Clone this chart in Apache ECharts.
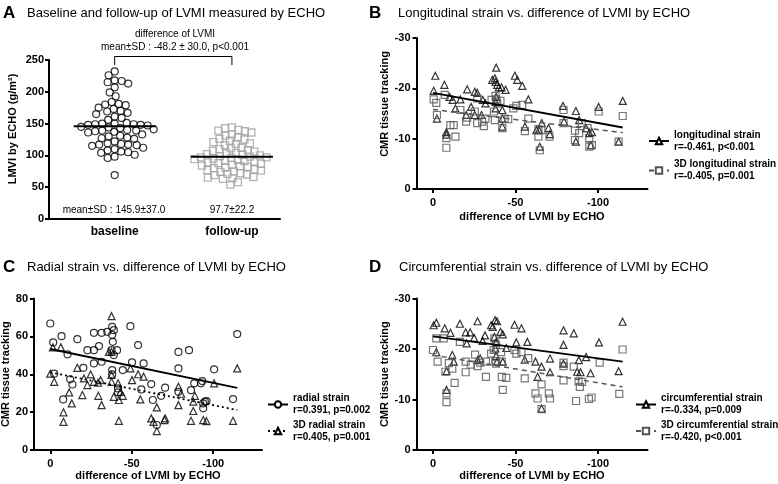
<!DOCTYPE html>
<html>
<head>
<meta charset="utf-8">
<script src="https://cdn.jsdelivr.net/npm/echarts@6.0.0/dist/echarts.min.js"></script>
<style>
html,body{margin:0;padding:0;background:#fff;}
#chart{width:778px;height:484px;}
</style>
</head>
<body>
<div id="chart"></div>
<script>
const FONT = "'Liberation Sans', Arial, Helvetica, sans-serif";

// ---------- Panel A : LVMI baseline vs follow-up ----------
const titleA = 'Baseline and follow-up of LVMI measured by ECHO';
const groupsA = ['baseline', 'follow-up'];
const baselineLVMI = [232, 226, 218, 217, 215, 213, 207, 199, 193, 184, 181, 180, 179, 175, 173, 170, 169, 167, 165, 161, 159, 156,
  151, 150, 150, 149, 149, 148, 148, 147, 145, 144, 143, 141, 140, 139, 139, 138, 137, 136,
  133, 131, 130, 128, 127, 126, 122, 119, 118, 117, 117, 116, 115, 112, 110, 108, 106, 105, 104, 101, 98, 96, 69];
const followupLVMI = [144, 143, 140, 139, 138, 136, 133, 131, 128, 126, 125, 123, 121, 119, 118, 116,
  112, 111, 110, 108, 107, 106, 104, 103, 102, 101, 100, 99, 98, 97, 97, 96, 95, 94, 93, 92, 91, 90, 89, 88, 87,
  85, 84, 83, 82, 81, 80, 78, 77, 76, 75, 74, 72, 71, 70, 69, 66, 65, 64, 63, 58, 54];
const meanA = [145.9, 97.7];
const meanTextA = ['mean\u00b1SD : 145.9\u00b137.0', '97.7\u00b122.2'];
const diffTextA = ['difference of LVMI', 'mean\u00b1SD : -48.2 \u00b1 30.0, p<0.001'];
const yNameA = 'LMVI by ECHO (g/m\u00b2)';

// ---------- Panel B : longitudinal strain ----------
const titleB = 'Longitudinal strain vs. difference of LVMI by ECHO';
const longB = [[-1.4,-22.5],[-0.4,-19.5],[-2.4,-14.0],[-6.9,-20.7],[-8.1,-11.3],[-8.1,-10.8],[-10.0,-18.3],[-11.9,-17.7],[-13.6,-16.0],[-16.6,-17.8],
  [-20.7,-19.8],[-20.1,-14.7],[-23.1,-16.3],[-25.3,-19.3],[-26.8,-19.1],[-25.3,-14.7],[-29.4,-14.7],[-30.2,-17.7],[-31.8,-17.0],[-35.9,-21.7],
  [-37.5,-22.0],[-38.3,-24.1],[-37.9,-21.3],[-38.9,-20.7],[-39.9,-20.2],[-41.5,-20.2],[-44.0,-19.7],[-37.9,-16.0],[-38.3,-18.3],[-42.0,-15.7],
  [-42.0,-14.0],[-42.0,-12.4],[-37.9,-17.3],[-49.6,-22.5],[-51.1,-21.7],[-54.1,-20.5],[-57.8,-17.8],[-55.7,-12.4],[-62.7,-11.7],[-64.2,-11.7],
  [-64.7,-8.4],[-65.9,-13.1],[-70.0,-12.1],[-70.8,-10.9],[-78.8,-16.5],[-79.4,-13.4],[-86.6,-15.5],[-86.6,-9.4],[-88.6,-13.7],[-92.7,-12.1],
  [-94.7,-11.1],[-96.3,-11.3],[-95.7,-8.7],[-100.4,-16.3],[-112.5,-9.4],[-115.0,-17.5]];
const long3DB = [[-0.4,-17.8],[-2.0,-17.1],[-2.4,-14.7],[-7.1,-18.7],[-8.1,-10.1],[-8.1,-8.2],[-10.5,-12.7],[-12.5,-12.7],[-13.6,-10.4],[-16.6,-15.7],
  [-20.1,-13.4],[-20.7,-14.2],[-25.3,-15.4],[-26.8,-18.0],[-26.8,-13.1],[-29.8,-13.4],[-30.8,-12.5],[-31.8,-14.0],[-35.5,-17.7],[-36.9,-15.4],
  [-37.5,-13.7],[-37.9,-18.5],[-38.3,-17.8],[-38.9,-17.0],[-40.9,-17.5],[-42.0,-12.1],[-43.4,-14.0],[-45.6,-13.9],[-48.7,-16.0],[-50.5,-16.5],
  [-54.1,-16.7],[-55.7,-11.5],[-57.8,-14.0],[-63.9,-10.4],[-63.9,-11.9],[-65.7,-11.7],[-64.7,-7.7],[-70.6,-10.4],[-79.1,-13.1],[-79.1,-15.7],
  [-86.0,-9.7],[-86.0,-11.6],[-88.6,-11.1],[-90.2,-13.1],[-93.7,-12.1],[-94.7,-10.1],[-94.7,-8.4],[-96.3,-8.7],[-100.4,-15.4],[-112.5,-9.4],[-115.0,-14.5]];
const longFitB = [[0,-19.1],[-115,-12.2]];
const long3DFitB = [[0,-15.8],[-115,-11.2]];
const seriesNamesB = ['longitudinal strain', '3D longitudinal strain'];
const statsB = ['r=-0.461, p<0.001', 'r=-0.405, p=0.001'];

// ---------- Panel C : radial strain ----------
const titleC = 'Radial strain vs. difference of LVMI by ECHO';
const radC = [[0,66.8],[-1.8,56.8],[-2.4,40.3],[-6.9,60.1],[-10.6,50.5],[-16.6,58.5],[-7.9,26.7],[-12.2,37.3],[-13.6,34.6],[-20.3,43.4],
  [-22.8,52.7],[-26.8,52.7],[-29.9,54.9],[-26.8,61.9],[-31.5,61.9],[-35.0,62.4],[-38.0,65.0],[-39.0,63.3],[-38.0,60.8],[-38.4,57.1],
  [-37.6,52.7],[-39.0,50.1],[-41.0,52.7],[-26.8,45.7],[-31.5,46.6],[-38.0,42.2],[-38.0,39.9],[-44.5,42.2],[-41.6,32.5],[-41.6,30.4],
  [-49.2,65.4],[-50.2,46.3],[-53.9,55.4],[-55.9,32.0],[-57.3,45.7],[-62.0,34.8],[-63.0,26.4],[-65.4,13.2],[-68.1,28.6],[-70.5,32.9],
  [-78.7,51.8],[-78.7,43.1],[-78.7,30.7],[-85.2,52.7],[-86.4,31.6],[-88.4,35.2],[-92.5,35.2],[-93.3,36.4],[-93.9,24.6],[-94.9,25.5],
  [-95.9,25.8],[-93.9,22.0],[-100.6,42.6],[-112.2,26.9],[-114.8,61.2]];
const rad3DC = [[0,40.3],[-2.4,36.0],[-1.6,54.2],[-6.5,54.2],[-8.1,14.9],[-8.1,19.9],[-11.6,30.4],[-13.2,24.6],[-16.6,43.4],[-19.7,29.0],
  [-20.7,37.8],[-22.8,34.3],[-24.8,39.9],[-26.8,36.0],[-29.5,28.6],[-30.9,36.9],[-31.5,23.7],[-29.3,35.5],[-37.6,70.7],[-37.6,36.0],
  [-37.6,39.6],[-39.0,28.1],[-41.6,35.2],[-42.1,26.4],[-42.1,15.4],[-43.1,30.7],[-44.5,28.6],[-37.6,51.8],[-36.0,51.8],[-49.2,43.1],
  [-50.2,36.9],[-53.9,40.0],[-55.3,26.7],[-57.3,38.7],[-62.0,16.7],[-63.4,14.9],[-65.4,22.5],[-65.4,10.0],[-70.1,15.8],[-70.5,16.7],
  [-78.7,33.4],[-78.7,23.7],[-80.3,29.7],[-86.4,15.4],[-87.8,25.5],[-87.8,20.6],[-88.8,28.6],[-93.9,15.8],[-95.9,15.2],[-100.6,35.2],
  [-112.2,15.4],[-114.8,43.1]];
const radFitC = [[0,53.3],[-114.8,32.8]];
const rad3DFitC = [[0,41.0],[-114.8,21.1]];
const seriesNamesC = ['radial strain', '3D radial strain'];
const statsC = ['r=0.391, p=0.002', 'r=0.405, p=0.001'];

// ---------- Panel D : circumferential strain ----------
const titleD = 'Circumferential strain vs. difference of LVMI by ECHO';
const circD = [[-0.4,-24.7],[-2.0,-25.2],[-2.0,-19.4],[-7.1,-24.1],[-8.2,-15.6],[-8.2,-11.9],[-10.6,-23.2],[-11.7,-18.8],[-12.6,-17.5],[-16.3,-25.0],
  [-19.8,-23.3],[-22.5,-23.3],[-20.4,-21.1],[-24.9,-22.2],[-27.0,-25.5],[-27.0,-17.8],[-28.6,-18.1],[-30.1,-21.6],[-31.5,-22.7],[-35.2,-24.7],
  [-36.2,-24.4],[-37.6,-25.7],[-38.8,-25.5],[-37.2,-22.4],[-38.2,-21.3],[-37.8,-20.1],[-38.2,-18.6],[-38.8,-17.5],[-40.9,-23.4],[-42.3,-22.9],
  [-42.3,-17.5],[-44.4,-20.2],[-49.4,-24.8],[-50.5,-21.3],[-53.6,-24.1],[-55.6,-17.9],[-57.2,-21.4],[-62.1,-17.5],[-63.4,-14.5],[-65.8,-16.5],
  [-65.8,-8.2],[-70.9,-18.1],[-70.9,-15.4],[-79.1,-23.7],[-79.1,-20.8],[-79.1,-17.1],[-85.3,-23.1],[-88.4,-17.8],[-87.4,-15.5],[-89.4,-15.4],
  [-92.8,-18.4],[-95.5,-15.2],[-100.6,-21.3],[-112.5,-15.6],[-114.9,-25.4]];
const circ3DD = [[0,-19.8],[-2.0,-22.1],[-2.8,-17.5],[-6.5,-22.1],[-7.5,-15.5],[-8.2,-11.2],[-8.2,-9.5],[-9.6,-17.2],[-11.7,-16.1],[-13.1,-13.3],
  [-16.3,-21.4],[-19.8,-17.5],[-19.8,-15.4],[-22.9,-16.9],[-25.5,-18.9],[-27.0,-16.6],[-28.6,-17.3],[-32.1,-14.5],[-32.1,-17.5],[-35.2,-19.1],
  [-36.8,-19.8],[-37.2,-22.1],[-38.2,-20.8],[-37.8,-17.6],[-38.2,-17.1],[-41.3,-19.4],[-41.7,-17.5],[-41.7,-14.5],[-42.3,-11.9],[-44.4,-14.3],
  [-49.4,-19.8],[-50.5,-19.1],[-53.6,-19.4],[-55.6,-14.2],[-57.7,-18.2],[-62.1,-11.2],[-63.4,-10.2],[-65.8,-13.0],[-65.8,-8.1],[-70.2,-11.2],
  [-70.9,-10.2],[-79.1,-17.3],[-79.1,-13.8],[-79.1,-16.6],[-86.7,-9.7],[-85.3,-16.5],[-88.2,-13.6],[-89.0,-12.5],[-90.3,-13.5],[-94.5,-10.1],
  [-96.1,-10.4],[-101.0,-17.3],[-112.9,-11.1],[-114.9,-19.9]];
const circFitD = [[0,-22.5],[-114.9,-17.5]];
const circ3DFitD = [[0,-18.8],[-114.9,-12.5]];
const seriesNamesD = ['circumferential strain', '3D circumferential strain'];
const statsD = ['r=-0.334, p=0.009', 'r=-0.420, p<0.001'];

// shared axis texts / ticks
const xNameStrain = 'difference of LVMI by ECHO';
const yNameStrain = 'CMR tissue tracking';
const xTicksStrain = [0, -50, -100];

// ---------------- option building ----------------
const labelStyle = {color:'#000', fontFamily:FONT, fontSize:11, fontWeight:'bold'};
function axisCommon(extra) {
  const base = {
    type:'value',
    axisLine:{show:true, onZero:false, lineStyle:{color:'#000', width:2}},
    axisTick:{show:true, length:4, lineStyle:{color:'#000', width:2}},
    axisLabel:Object.assign({}, labelStyle),
    splitLine:{show:false},
    nameTextStyle:Object.assign({}, labelStyle)
  };
  for (const k in extra) {
    if (base[k] && typeof base[k] === 'object' && !Array.isArray(base[k]) && typeof extra[k] === 'object') {
      base[k] = Object.assign({}, base[k], extra[k]);
    } else base[k] = extra[k];
  }
  return base;
}
function strainX(gridIndex, nameGap) {
  return axisCommon({gridIndex, min:-130, max:10, inverse:true, name:xNameStrain, nameLocation:'middle', nameGap,
    axisTick:{customValues:xTicksStrain}, axisLabel:{customValues:xTicksStrain, margin:8}});
}

const gridA = {left:49, top:60, width:231, height:159};
const gridB = {left:416.5, top:38, width:231, height:151};
const gridC = {left:34, top:298.5, width:228, height:151.5};
const gridD = {left:416.5, top:298.5, width:231, height:151.5};

function scatterS(name, xi, data, symbol, stroke) {
  return {type:'scatter', name, xAxisIndex:xi, yAxisIndex:xi, data, symbol, symbolSize:7,
    itemStyle:{color:'rgba(255,255,255,0)', borderColor:stroke, borderWidth:1.2}, z:2, silent:true};
}
function fitS(name, xi, data, symbol, stroke, width, dash) {
  return {type:'line', name, xAxisIndex:xi, yAxisIndex:xi, data, symbol, symbolSize:7, showSymbol:false,
    lineStyle:{color:stroke, width, type:dash}, itemStyle:{color:'#fff', borderColor:stroke, borderWidth:1.2},
    z:3, silent:true, clip:false};
}
function legendFor(names, stats, left, top, gap) {
  return {show:true, orient:'vertical', left, top, padding:0, itemWidth:20, itemHeight:8, itemGap:gap, selectedMode:false,
    data:names, formatter: n => n + '\n' + stats[names.indexOf(n)],
    textStyle:{color:'#000', fontFamily:FONT, fontSize:10, fontWeight:'bold', lineHeight:12}};
}
function txt(x, y, text, font, align) {
  return {type:'text', x, y, silent:true,
    style:{text, font, fill:'#000', align:align || 'left', verticalAlign:'middle'}};
}

const option = {
  animation:false,
  backgroundColor:'#fff',
  grid:[gridA, gridB, gridC, gridD].map(g => Object.assign({containLabel:false, outerBoundsMode:'none'}, g)),
  xAxis:[
    axisCommon({gridIndex:0, min:-0.56, max:1.41, axisTick:{show:false},
      axisLabel:{customValues:[0,1], formatter:v => groupsA[Math.round(v)], fontSize:12, margin:7}}),
    strainX(1, 22),
    strainX(2, 20),
    strainX(3, 20)
  ],
  yAxis:[
    axisCommon({gridIndex:0, min:0, max:250, interval:50, name:yNameA, nameLocation:'middle', nameGap:31,
      axisLabel:{margin:5}, nameTextStyle:{padding:[0,0,0,21]}}),
    axisCommon({gridIndex:1, min:-30, max:0, interval:10, inverse:true, name:yNameStrain, nameLocation:'middle', nameGap:23,
      axisLabel:{margin:6}, nameTextStyle:{padding:[0,0,0,19]}}),
    axisCommon({gridIndex:2, min:0, max:80, interval:20, name:yNameStrain, nameLocation:'middle', nameGap:19, axisLabel:{margin:6}}),
    axisCommon({gridIndex:3, min:-30, max:0, interval:10, inverse:true, name:yNameStrain, nameLocation:'middle', nameGap:23, axisLabel:{margin:6}})
  ],
  legend:[
    legendFor(seriesNamesB, statsB, 648, 129, 5.5),
    legendFor(seriesNamesC, statsC, 267, 392.5, 2.5),
    legendFor(seriesNamesD, statsD, 635, 392.5, 2.5)
  ],
  series:[
    // Panel A
    {id:'baseA', type:'scatter', name:groupsA[0], xAxisIndex:0, yAxisIndex:0, data:[], symbol:'circle', symbolSize:7,
      itemStyle:{color:'rgba(255,255,255,0)', borderColor:'#000', borderWidth:1.2}, silent:true},
    {id:'fuA', type:'scatter', name:groupsA[1], xAxisIndex:0, yAxisIndex:0, data:[], symbol:'rect', symbolSize:7,
      itemStyle:{color:'rgba(255,255,255,0)', borderColor:'#a3a3a3', borderWidth:1.3}, silent:true},
    {type:'line', name:'mean baseline', xAxisIndex:0, yAxisIndex:0, data:[[-0.35, meanA[0]],[0.35, meanA[0]]], symbol:'none',
      lineStyle:{color:'#000', width:2}, z:4, silent:true},
    {type:'line', name:'mean follow-up', xAxisIndex:0, yAxisIndex:0, data:[[0.65, meanA[1]],[1.35, meanA[1]]], symbol:'none',
      lineStyle:{color:'#000', width:2}, z:4, silent:true},
    {type:'line', name:'bracket', xAxisIndex:0, yAxisIndex:0, data:[[0,242],[0,255.5],[1,255.5],[1,242]], symbol:'none',
      lineStyle:{color:'#000', width:1}, clip:false, silent:true},
    // Panel B
    fitS(seriesNamesB[0], 1, longFitB, 'triangle', '#000', 2, 'solid'),
    fitS(seriesNamesB[1], 1, long3DFitB, 'rect', '#555', 1.5, [5,4]),
    scatterS(seriesNamesB[0], 1, longB, 'triangle', '#000'),
    scatterS(seriesNamesB[1], 1, long3DB, 'rect', '#555'),
    // Panel C
    fitS(seriesNamesC[0], 2, radFitC, 'circle', '#000', 2, 'solid'),
    fitS(seriesNamesC[1], 2, rad3DFitC, 'triangle', '#000', 1.8, [2,3]),
    scatterS(seriesNamesC[0], 2, radC, 'circle', '#000'),
    scatterS(seriesNamesC[1], 2, rad3DC, 'triangle', '#000'),
    // Panel D
    fitS(seriesNamesD[0], 3, circFitD, 'triangle', '#000', 2, 'solid'),
    fitS(seriesNamesD[1], 3, circ3DFitD, 'rect', '#555', 1.5, [5,4]),
    scatterS(seriesNamesD[0], 3, circD, 'triangle', '#000'),
    scatterS(seriesNamesD[1], 3, circ3DD, 'rect', '#555')
  ],
  graphic:[
    txt(3, 13, 'A', 'bold 17px ' + FONT),
    txt(27, 13, titleA, '13px ' + FONT),
    txt(369, 13, 'B', 'bold 17px ' + FONT),
    txt(398, 13, titleB, '13px ' + FONT),
    txt(3, 267.5, 'C', 'bold 17px ' + FONT),
    txt(27, 267, titleC, '13px ' + FONT),
    txt(369, 267.5, 'D', 'bold 17px ' + FONT),
    txt(399, 267, titleD, '13px ' + FONT),
    txt(175, 34, diffTextA[0], '10px ' + FONT, 'center'),
    txt(175, 47, diffTextA[1], '10px ' + FONT, 'center'),
    txt(114, 210, meanTextA[0], '10px ' + FONT, 'center'),
    txt(232, 210, meanTextA[1], '10px ' + FONT, 'center')
  ]
};

const chart = echarts.init(document.getElementById('chart'), null, {renderer:'canvas'});
chart.setOption(option);

// beeswarm layout of panel A computed from the values via the axis scales
const px = v => chart.convertToPixel({xAxisIndex:0}, v);
const py = v => chart.convertToPixel({yAxisIndex:0}, v);
const kx = px(1) - px(0);
const ky = py(0) - py(1);
function swarm(values, center, diam) {
  const placed = [];
  const sorted = values.slice().sort((a, b) => b - a);
  return sorted.map(v => {
    const yp = v * ky;
    let best = 0;
    for (let k = 0; k < 400; k++) {
      const off = (k % 2 === 0 ? 1 : -1) * Math.ceil(k / 2) * 0.5;
      let ok = true;
      for (const p of placed) {
        const dx = p[0] - off, dy = p[1] - yp;
        if (dx * dx + dy * dy < diam * diam) { ok = false; break; }
      }
      if (ok) { best = off; break; }
    }
    placed.push([best, yp]);
    return [center + best / kx, v];
  });
}
chart.setOption({series:[
  {id:'baseA', data:swarm(baselineLVMI, 0, 6.8)},
  {id:'fuA', data:swarm(followupLVMI, 1, 6.6)}
]});
</script>
</body>
</html>
